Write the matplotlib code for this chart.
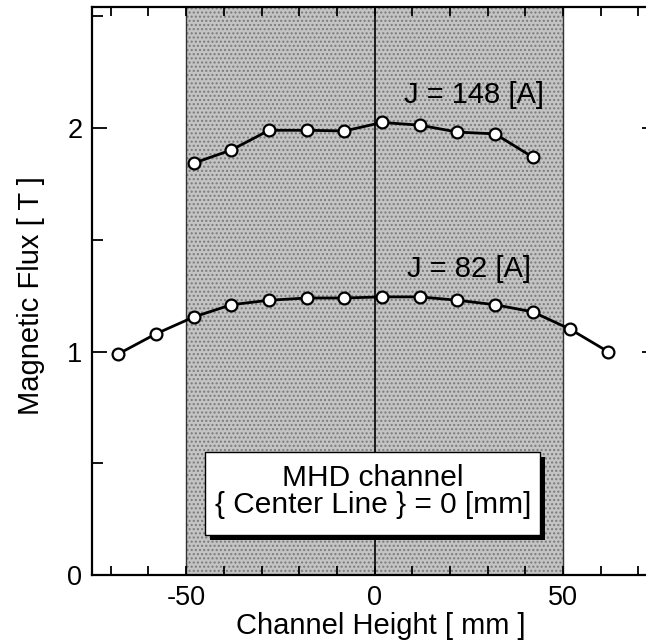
import matplotlib
matplotlib.use("Agg")
import matplotlib.pyplot as plt
from matplotlib.patches import Rectangle
from matplotlib.ticker import MultipleLocator, FixedLocator

plt.rcParams['font.family'] = ['Liberation Sans', 'DejaVu Sans']

# data
x_82 = [-68, -58, -48, -38, -28, -18, -8, 2, 12, 22, 32, 42, 52, 62]
y_82 = [0.99, 1.08, 1.155, 1.21, 1.23, 1.24, 1.24, 1.245, 1.245, 1.23, 1.21, 1.178, 1.10, 1.0]
x_148 = [-48, -38, -28, -18, -8, 2, 12, 22, 32, 42]
y_148 = [1.843, 1.902, 1.99, 1.99, 1.987, 2.025, 2.013, 1.982, 1.974, 1.87]
label_82 = "J = 82 [A]"
label_148 = "J = 148 [A]"
channel_lo, channel_hi = -50, 50
box_text = "MHD channel\n{ Center Line } = 0 [mm]"
xticks_major = [-50, 0, 50]
yticks_major = [0, 1, 2]

W, H = 646, 642
fig = plt.figure(figsize=(W / 100, H / 100), dpi=100)
ax = fig.add_axes([92 / W, (H - 575.3) / H, 565 / W, 568 / H])
ax.set_xlim(-75, 75)
ax.set_ylim(0, 2.54)

# channel shading
ax.axvspan(channel_lo, channel_hi, facecolor='#c4c4c4', edgecolor='#7a7a7a',
           hatch='....', linewidth=0, zorder=0)
ax.axvline(channel_lo, color='#333333', lw=1.0, zorder=1)
ax.axvline(channel_hi, color='#333333', lw=1.0, zorder=1)
ax.axvline(0, color='black', lw=1.2, zorder=1)

for xs, ys in [(x_82, y_82), (x_148, y_148)]:
    ax.plot(xs, ys, '-', color='black', lw=2.0, marker='o', ms=8.5,
            mfc='white', mec='black', mew=1.6, zorder=5)

ax.text(45, 2.148, label_148, ha='right', va='center', fontsize=21, zorder=6)
ax.text(41.5, 1.37, label_82, ha='right', va='center', fontsize=21, zorder=6)

# box with shadow
bx0, bx1, by0, by1 = -44.9, 44.0, 0.18, 0.553
ax.add_patch(Rectangle((bx0 + 1.2, by0 - 0.022), bx1 - bx0, by1 - by0,
                       facecolor='black', edgecolor='none', zorder=7))
ax.add_patch(Rectangle((bx0, by0), bx1 - bx0, by1 - by0,
                       facecolor='white', edgecolor='black', lw=1.0, zorder=8))
ax.text((bx0 + bx1) / 2, (by0 + by1) / 2 + 0.01, box_text, ha='center', va='center',
        fontsize=21.5, linespacing=0.95, zorder=9)

# ticks
ax.xaxis.set_major_locator(FixedLocator(xticks_major))
ax.xaxis.set_minor_locator(MultipleLocator(10))
ax.yaxis.set_major_locator(FixedLocator(yticks_major))
ax.yaxis.set_minor_locator(MultipleLocator(0.5))
ax.tick_params(axis='both', which='both', direction='in', top=True, right=True,
               width=1.3, labelsize=19.5)
ax.tick_params(axis='x', which='major', length=6.5, pad=7)
ax.tick_params(axis='x', which='minor', length=6.5)
ax.tick_params(axis='y', which='major', length=11, pad=7)
ax.tick_params(axis='y', which='minor', length=8)
ax.set_xticklabels(['-50', '0', '50'])
for s in ax.spines.values():
    s.set_linewidth(1.6)

fig.text(31 / W, 1 - 296 / H, "Magnetic Flux [ T ]", rotation=90, ha='center',
         va='center', fontsize=21)
fig.text(381 / W, 1 - 626 / H, "Channel Height [ mm ]", ha='center', va='center',
         fontsize=21)

fig.savefig('out.png', dpi=100)
